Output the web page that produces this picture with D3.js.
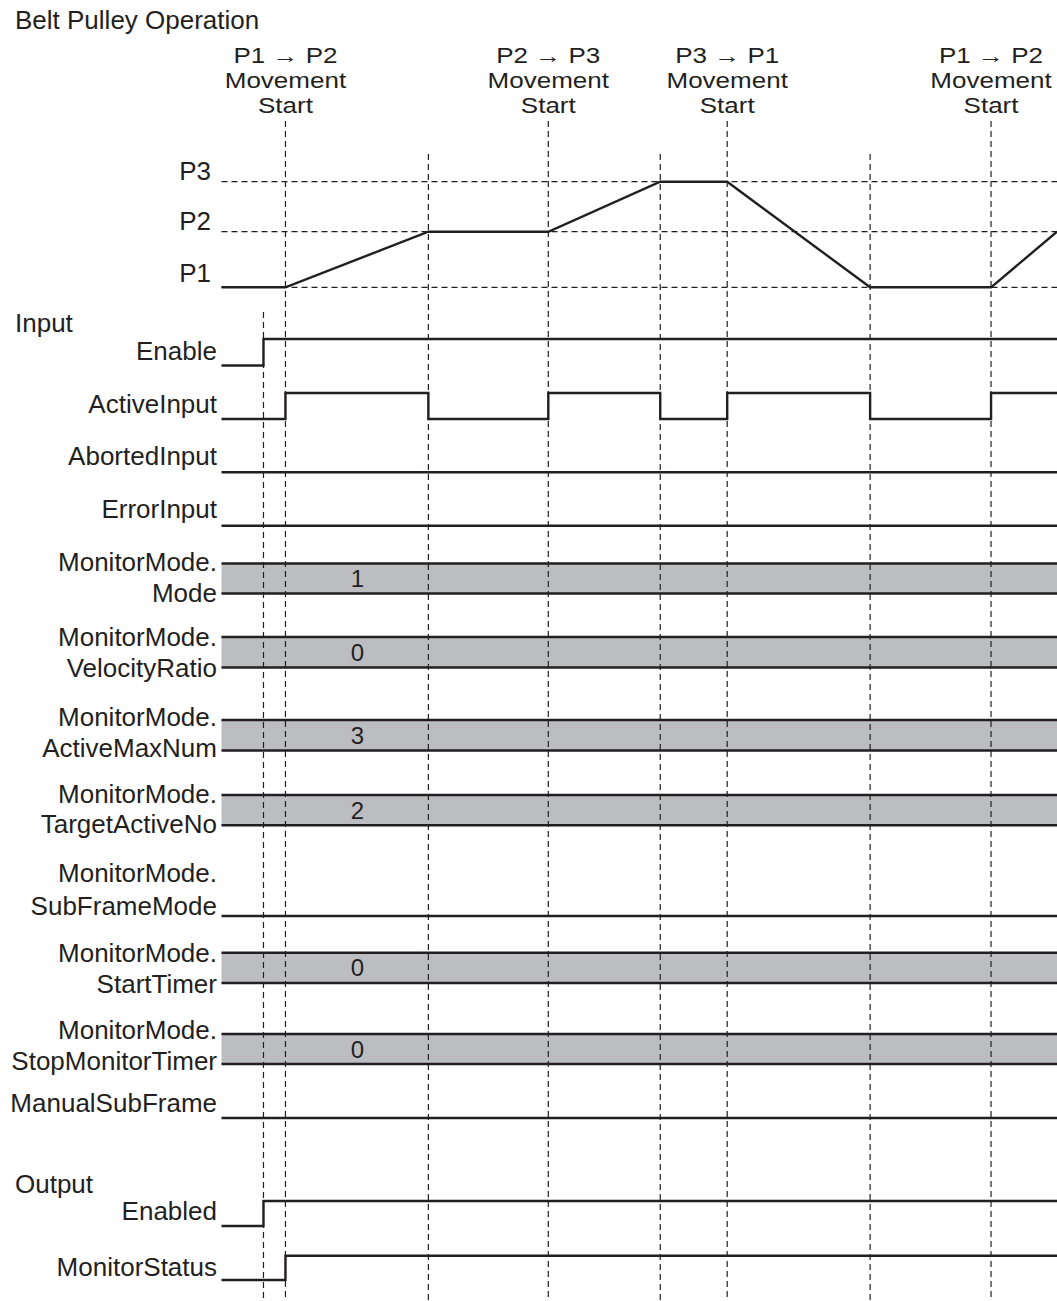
<!DOCTYPE html>
<html>
<head>
<meta charset="utf-8">
<script src="https://cdn.jsdelivr.net/npm/d3@7"></script>
<style>
  html, body { margin: 0; padding: 0; background: #ffffff; }
  svg { display: block; }
  text { font-family: "Liberation Sans", Arial, Helvetica, sans-serif; fill: #231f20; }
</style>
</head>
<body>
<svg id="chart" width="1057" height="1301"></svg>
<script>
// ---------------- DATA ----------------
const chartTitle = "Belt Pulley Operation";
const timeEnd = 836;                 // end of the drawn time axis (arbitrary time units)

// Event times (vertical dashed markers)
const markerTimes = [64, 207, 327, 439, 506, 649, 770];
const headedMarkerTimes = [64, 327, 506, 770];
const enableTime = 42;

// Header annotations
const headerTimes = [64, 327, 506, 770];
const headerLines = [
  ["P1 → P2", "Movement", "Start"],
  ["P2 → P3", "Movement", "Start"],
  ["P3 → P1", "Movement", "Start"],
  ["P1 → P2", "Movement", "Start"]
];

// Belt pulley position profile
const positionNames = ["P1", "P2", "P3"];
const positionLevels = [0, 100, 190];
const positionTimes  = [0, 64, 207, 327, 439, 506, 649, 770, 836];
const positionValues = [0, 0, 100, 100, 190, 190, 0, 0, 100];

// Bit signals: [time, level]
const enableStates        = [[0, 0], [42, 1]];
const activeInputStates   = [[0, 0], [64, 1], [207, 0], [327, 1], [439, 0], [506, 1], [649, 0], [770, 1]];
const abortedInputStates  = [[0, 0]];
const errorInputStates    = [[0, 0]];
const subFrameModeStates  = [[0, 0]];
const manualSubFrameStates= [[0, 0]];
const enabledStates       = [[0, 0], [42, 1]];
const monitorStatusStates = [[0, 0], [64, 1]];

// Bus (value) signals
const modeValue = "1";
const velocityRatioValue = "0";
const activeMaxNumValue = "3";
const targetActiveNoValue = "2";
const startTimerValue = "0";
const stopMonitorTimerValue = "0";
const busValueTime = 136;

// ---------------- LAYOUT (positions, not data) ----------------
const rows = [
  { kind: "bit", labels: ["Enable"], states: enableStates, low: 365.5, high: 339, lb: [360] },
  { kind: "bit", labels: ["ActiveInput"], states: activeInputStates, low: 419, high: 393, lb: [413] },
  { kind: "bit", labels: ["AbortedInput"], states: abortedInputStates, low: 472.3, high: 446, lb: [465] },
  { kind: "bit", labels: ["ErrorInput"], states: errorInputStates, low: 525.7, high: 500, lb: [518] },
  { kind: "bus", labels: ["MonitorMode.", "Mode"], value: modeValue, top: 563.5, bottom: 593.5, lb: [570.5, 601.5] },
  { kind: "bus", labels: ["MonitorMode.", "VelocityRatio"], value: velocityRatioValue, top: 637, bottom: 667.5, lb: [645.5, 677] },
  { kind: "bus", labels: ["MonitorMode.", "ActiveMaxNum"], value: activeMaxNumValue, top: 720, bottom: 750.5, lb: [725.5, 756.5] },
  { kind: "bus", labels: ["MonitorMode.", "TargetActiveNo"], value: targetActiveNoValue, top: 795, bottom: 825.3, lb: [802.5, 833.3] },
  { kind: "bit", labels: ["MonitorMode.", "SubFrameMode"], states: subFrameModeStates, low: 916, high: 890, lb: [881.5, 915] },
  { kind: "bus", labels: ["MonitorMode.", "StartTimer"], value: startTimerValue, top: 952.7, bottom: 983, lb: [961.5, 993] },
  { kind: "bus", labels: ["MonitorMode.", "StopMonitorTimer"], value: stopMonitorTimerValue, top: 1034, bottom: 1064, lb: [1038.5, 1070] },
  { kind: "bit", labels: ["ManualSubFrame"], states: manualSubFrameStates, low: 1118, high: 1092, lb: [1111.5] },
  { kind: "bit", labels: ["Enabled"], states: enabledStates, low: 1226, high: 1201, lb: [1220] },
  { kind: "bit", labels: ["MonitorStatus"], states: monitorStatusStates, low: 1280, high: 1255.7, lb: [1276] }
];

const ink = "#231f20";
const busFill = "#bcbdc0";
const W = 1057, H = 1301;

const svg = d3.select("#chart");
const x = d3.scaleLinear().domain([0, timeEnd]).range([221.5, W]);
const yPos = d3.scaleLinear().domain([0, 190]).range([287.3, 181.7]);

// Title
svg.append("text").attr("x", 15).attr("y", 29).attr("font-size", 26).text(chartTitle);

// Section labels
svg.append("text").attr("x", 15).attr("y", 332).attr("font-size", 26).text("Input");
svg.append("text").attr("x", 15).attr("y", 1193).attr("font-size", 26).text("Output");

// Header annotations (slightly smaller, stretched to the reference width)
const headerBaselines = [63, 88, 113];
const headerSize = 22, headerStretch = 26 / 22;
headerTimes.forEach((t, i) => {
  headerLines[i].forEach((ln, j) => {
    const tx = svg.append("text")
      .attr("x", x(t)).attr("y", headerBaselines[j])
      .attr("text-anchor", "middle").attr("font-size", headerSize)
      .text(ln);
    const len = tx.node().getComputedTextLength();
    tx.attr("textLength", len * headerStretch).attr("lengthAdjust", "spacingAndGlyphs");
  });
});

// Bus fills first
const busRows = rows.filter(r => r.kind === "bus");
svg.append("g").selectAll("rect").data(busRows).join("rect")
  .attr("x", x(0)).attr("width", x(timeEnd) - x(0))
  .attr("y", d => d.top).attr("height", d => d.bottom - d.top)
  .attr("fill", busFill);

// Dashed grid: horizontal position levels
const dashG = svg.append("g").attr("stroke", ink).attr("stroke-width", 1.2)
  .attr("stroke-dasharray", "6,4").attr("fill", "none");
positionLevels.forEach(v => {
  dashG.append("line").attr("x1", x(0)).attr("x2", x(timeEnd))
    .attr("y1", yPos(v)).attr("y2", yPos(v));
});
// Vertical markers
markerTimes.forEach(t => {
  const top = headedMarkerTimes.includes(t) ? 121 : 154;
  dashG.append("line").attr("x1", x(t)).attr("x2", x(t)).attr("y1", top).attr("y2", H);
});
dashG.append("line").attr("x1", x(enableTime)).attr("x2", x(enableTime)).attr("y1", 312).attr("y2", H);

// Position labels
positionNames.forEach((n, i) => {
  svg.append("text").attr("x", 211).attr("y", yPos(positionLevels[i]) - (i === 0 ? 5 : 2))
    .attr("text-anchor", "end").attr("font-size", 26).text(n);
});

// Position profile
const posLine = d3.line().x(d => x(d[0])).y(d => yPos(d[1]));
svg.append("path")
  .attr("d", posLine(positionTimes.map((t, i) => [t, positionValues[i]])))
  .attr("fill", "none").attr("stroke", ink).attr("stroke-width", 2.4);

// Signals
const solidG = svg.append("g").attr("stroke", ink).attr("stroke-width", 2.4).attr("fill", "none");
rows.forEach(r => {
  r.labels.forEach((lab, j) => {
    svg.append("text").attr("x", 217).attr("y", r.lb[j])
      .attr("text-anchor", "end").attr("font-size", 26).text(lab);
  });
  if (r.kind === "bit") {
    const yb = d3.scaleLinear().domain([0, 1]).range([r.low, r.high]);
    const pts = r.states.concat([[timeEnd, r.states[r.states.length - 1][1]]]);
    const step = d3.line().x(d => x(d[0])).y(d => yb(d[1])).curve(d3.curveStepAfter);
    solidG.append("path").attr("d", step(pts));
  } else {
    solidG.append("line").attr("x1", x(0)).attr("x2", x(timeEnd)).attr("y1", r.top).attr("y2", r.top);
    solidG.append("line").attr("x1", x(0)).attr("x2", x(timeEnd)).attr("y1", r.bottom).attr("y2", r.bottom);
    svg.append("text").attr("x", x(busValueTime)).attr("y", (r.top + r.bottom) / 2 + 8.5)
      .attr("text-anchor", "middle").attr("font-size", 24).text(r.value);
  }
});
</script>
</body>
</html>
